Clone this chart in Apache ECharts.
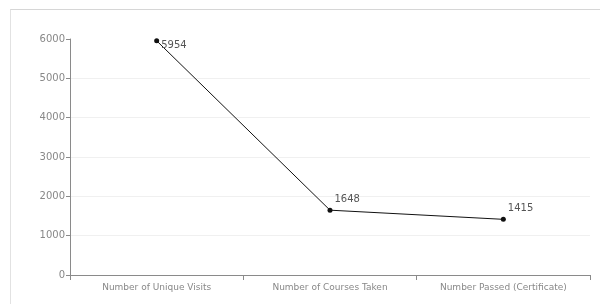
<!DOCTYPE html>
<html>
<head>
<meta charset="utf-8">
<script src="https://cdn.jsdelivr.net/npm/echarts@6/dist/echarts.min.js"></script>
<style>
  html, body { margin: 0; padding: 0; background: #fff; }
  #frame { position: absolute; left: 10px; top: 9px; width: 590px; height: 295px;
           border-left: 1px solid #e2e2e2; border-top: 1px solid #d6d6d6; }
  #chart { position: absolute; left: 0; top: 0; width: 600px; height: 304px; }
</style>
</head>
<body>
<div id="frame"></div>
<div id="chart"></div>
<script>
// 数据
var categories = ['Number of Unique Visits', 'Number of Courses Taken', 'Number Passed (Certificate)']
var values = [5954, 1648, 1415]
var yTicks = [0, 1000, 2000, 3000, 4000, 5000, 6000]

// label offsets per point (style only)
var labelOffsets = [[-3, 5], [-3, -11], [-3, -11]]

var chart = echarts.init(document.getElementById('chart'))
chart.setOption({
  animation: false,
  textStyle: { fontFamily: 'DejaVu Sans, sans-serif' },
  grid: { left: 70, right: 10, top: 39, bottom: 29 },
  xAxis: {
    type: 'category',
    data: categories,
    boundaryGap: true,
    axisLine: { lineStyle: { color: '#8a8a8a', width: 1 } },
    axisTick: { show: true, length: 5, alignWithLabel: false, lineStyle: { color: '#8a8a8a' } },
    axisLabel: { color: '#888', fontSize: 9, margin: 8 }
  },
  yAxis: {
    type: 'value',
    min: yTicks[0],
    max: yTicks[yTicks.length - 1],
    interval: 1000,
    axisLine: { show: true, lineStyle: { color: '#8a8a8a', width: 1 } },
    axisTick: { show: true, length: 4, lineStyle: { color: '#8a8a8a' } },
    axisLabel: { color: '#888', fontSize: 10, margin: 5, formatter: function (v) { return String(v) } },
    splitLine: { show: true, lineStyle: { color: ['transparent', '#f0f0f0', '#f0f0f0', '#f0f0f0', '#f0f0f0', '#f0f0f0', 'transparent'] } }
  },
  series: [{
    type: 'line',
    data: values.map(function (v, i) {
      return { value: v, label: { offset: labelOffsets[i] } }
    }),
    symbol: 'circle',
    symbolSize: 5,
    lineStyle: { color: '#111', width: 1 },
    itemStyle: { color: '#111' },
    label: {
      show: true,
      position: 'right',
      color: '#555',
      fontSize: 10
    }
  }]
})
</script>
</body>
</html>
